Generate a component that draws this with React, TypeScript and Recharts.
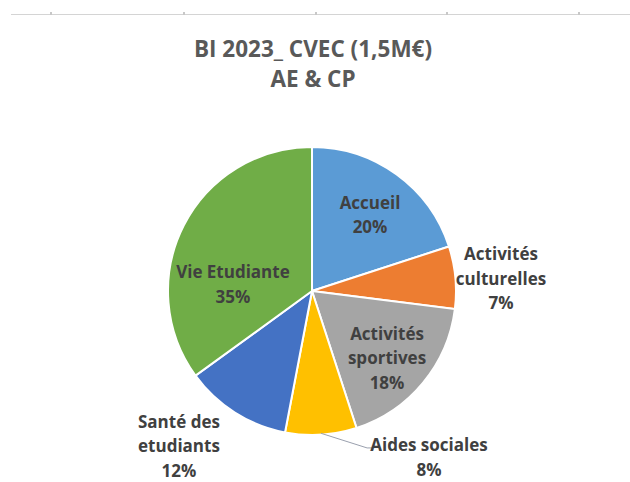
import React from 'react';
import { PieChart, Pie, Cell } from 'recharts';

const categories = [
  'Accueil',
  'Activités culturelles',
  'Activités sportives',
  'Aides sociales',
  'Santé des etudiants',
  'Vie Etudiante',
];
const shares = [20, 7, 18, 8, 12, 35];
const labelLines = [
  ['Accueil'],
  ['Activités', 'culturelles'],
  ['Activités', 'sportives'],
  ['Aides sociales'],
  ['Santé des', 'etudiants'],
  ['Vie Etudiante'],
];
const titleLines = ['BI 2023_ CVEC (1,5M€)', 'AE & CP'];

const colors = ['#5B9BD5', '#ED7D31', '#A5A5A5', '#FFC000', '#4472C4', '#70AD47'];

// label anchor (first-line centre) relative to pie centre, in units of the radius
const labelLayout = [
  { dx: 0.403, dy: -0.618, leader: false },
  { dx: 1.3125, dy: -0.257, leader: false },
  { dx: 0.521, dy: 0.292, leader: false },
  { dx: 0.8125, dy: 1.069, leader: true },
  { dx: -0.924, dy: 0.903, leader: false },
  { dx: -0.549, dy: -0.132, leader: false },
];

const data = categories.map((name, i) => ({ name, value: shares[i] }));
const total = shares.reduce((a, b) => a + b, 0);

const W = 630;
const H = 482;
const LINE_GAP = 24.5;
const RAD = Math.PI / 180;

const renderLabel = (props: any) => {
  const { cx, cy, outerRadius, index, midAngle, value } = props;
  const lay = labelLayout[index];
  const x = cx + lay.dx * outerRadius;
  const y0 = cy + lay.dy * outerRadius;
  const lines = [...labelLines[index], `${Math.round((value / total) * 100)}%`];
  const els: any[] = [];
  if (lay.leader) {
    const sx = cx + outerRadius * 0.99 * Math.cos(-midAngle * RAD);
    const sy = cy + outerRadius * 0.99 * Math.sin(-midAngle * RAD);
    const ex = x - 0.43 * outerRadius;
    const ey = y0 + 3;
    els.push(
      <path
        key="leader"
        d={`M${sx},${sy} L${ex},${ey} L${ex + 5},${ey}`}
        stroke="#9aa0ae"
        strokeWidth={1}
        fill="none"
      />
    );
  }
  lines.forEach((t, k) => {
    els.push(
      <text
        key={k}
        x={x}
        y={y0 + k * LINE_GAP}
        textAnchor="middle"
        dominantBaseline="central"
        fill="#404040"
        fontFamily="'Open Sans', sans-serif"
        fontWeight={700}
        fontSize={17}
      >
        {t}
      </text>
    );
  });
  return <g key={`lbl-${index}`}>{els}</g>;
};

export default function App() {
  return (
    <div style={{ position: 'absolute', left: 0, top: 0, width: W, height: H, background: '#fff' }}>
      <div
        style={{
          position: 'absolute',
          left: 11,
          right: 0,
          top: 14,
          height: 1,
          background: '#d4d4d4',
        }}
      />
      {[50, 183, 315, 446, 578].map((x) => (
        <div
          key={x}
          style={{ position: 'absolute', left: x, top: 12, width: 2, height: 3, background: '#c8c8c8' }}
        />
      ))}
      <div
        style={{
          position: 'absolute',
          left: 0,
          width: 626,
          top: 34,
          textAlign: 'center',
          fontFamily: "'Open Sans', sans-serif",
          fontWeight: 700,
          fontSize: 22.5,
          lineHeight: '30px',
          color: '#595959',
        }}
      >
        {titleLines.map((t) => (
          <div key={t}>{t}</div>
        ))}
      </div>
      <div style={{ position: 'absolute', left: 0, top: 0 }}>
        <PieChart width={W} height={H} margin={{ top: 0, right: 0, bottom: 0, left: 0 }}>
          <Pie
            data={data}
            dataKey="value"
            nameKey="name"
            cx={312}
            cy={291}
            outerRadius={144}
            startAngle={90}
            endAngle={-270}
            stroke="#ffffff"
            strokeWidth={2}
            label={renderLabel}
            labelLine={false}
            isAnimationActive={false}
          >
            {data.map((d, i) => (
              <Cell key={d.name} fill={colors[i]} />
            ))}
          </Pie>
        </PieChart>
      </div>
    </div>
  );
}
